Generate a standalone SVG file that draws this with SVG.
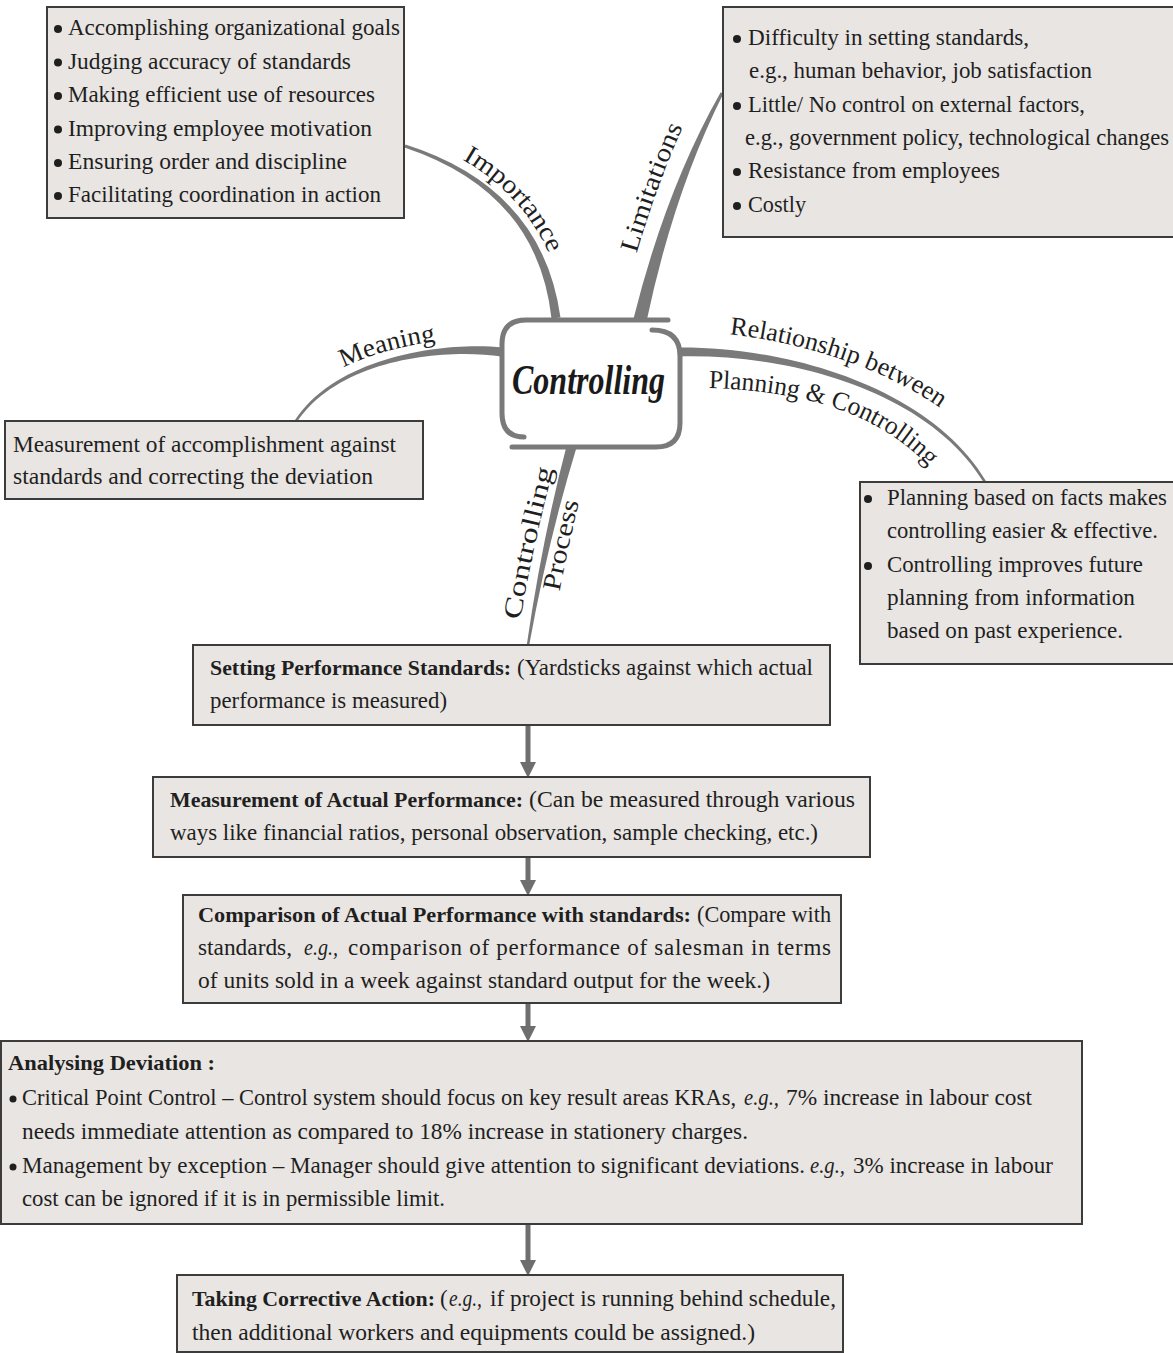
<svg xmlns="http://www.w3.org/2000/svg" width="1173" height="1353" viewBox="0 0 1173 1353">
<defs>
<style>
.box{fill:#e8e5e2;stroke:#3c3c3c;stroke-width:2}
.t{font-family:"Liberation Serif","DejaVu Serif",serif;font-size:23px;fill:#1f1f1f}
.b{font-weight:bold;font-size:22px}
.i{font-style:italic}
.lbl{font-family:"Liberation Serif","DejaVu Serif",serif;font-size:26px;fill:#1f1f1f}
.branch{fill:#7a7a7a}
.dot{fill:#1f1f1f}
.flow{stroke:#6e6e6e;stroke-width:5;fill:none}
.frame{fill:none;stroke:#7a7a7a;stroke-width:5;stroke-linecap:round}
</style>
<marker id="head" markerUnits="userSpaceOnUse" markerWidth="18" markerHeight="16" refX="1" refY="8" orient="auto">
<path d="M0,0 L16,8 L0,16 z" fill="#6e6e6e"/>
</marker>
<!-- baselines for the curved branch labels -->
<path id="p-imp" d="M 408.4 135.5 Q 548.5 183 566.9 318.6"/>
<path id="p-lim" d="M 620.5 315.5 Q 651.3 183 704.4 83.5"/>
<path id="p-mean" d="M 286 414.3 C 330 348.3 451.6 333.1 503.6 340.1"/>
<path id="p-rel1" d="M 677.6 332 C 789.6 330 947.2 379.7 1002.2 471.7"/>
<path id="p-rel2" d="M 678.6 388 C 790.6 386 899.1 408.5 954.1 500.5"/>
<path id="p-proc1" d="M 516 645 Q 533 540 560 445"/>
<path id="p-proc2" d="M 550 647 Q 567 540 594 445"/>
</defs>

<rect width="1173" height="1353" fill="#ffffff"/>

<!-- connectors: tapered branches, their labels and the process arrows -->
<g id="connectors">
<path class="branch" d="M 560.5 317.4 Q 542.3 188.1 405.5 144.6 L 404.5 147.4 Q 537.7 191.9 551.5 318.6 Z"/>
<path class="branch" d="M 646.5 321.4 Q 674 191.3 723.3 93.7 L 720.7 92.3 Q 666 188.7 633.5 318.7 Z"/>
<path class="branch" d="M 502.6 347.5 C 450.5 341.5 338.3 353.9 294.9 420.3 L 297.1 421.7 C 341.7 356.1 449.5 348.5 501.4 356.5 Z"/>
<path class="branch" d="M 678.1 356.5 C 790.1 353.5 928.3 391 983.9 482.7 L 986.1 481.3 C 931.7 389 789.9 346.5 677.9 347.5 Z"/>
<path class="branch" d="M 567.2 443.6 Q 542 539.3 526.8 644.8 L 529.2 645.2 Q 548 540.7 576.8 446.4 Z"/>

<text class="lbl"><textPath href="#p-imp" startOffset="59" textLength="130" lengthAdjust="spacingAndGlyphs">Importance</textPath></text>
<text class="lbl"><textPath href="#p-lim" startOffset="64" textLength="135" lengthAdjust="spacingAndGlyphs">Limitations</textPath></text>
<text class="lbl"><textPath href="#p-mean" startOffset="75" textLength="96" lengthAdjust="spacingAndGlyphs">Meaning</textPath></text>
<text class="lbl"><textPath href="#p-rel1" startOffset="52" textLength="225" lengthAdjust="spacingAndGlyphs">Relationship between</textPath></text>
<text class="lbl"><textPath href="#p-rel2" startOffset="30" textLength="240" lengthAdjust="spacingAndGlyphs">Planning &amp; Controlling</textPath></text>
<text class="lbl"><textPath href="#p-proc1" startOffset="25" textLength="155" lengthAdjust="spacingAndGlyphs">Controlling</textPath></text>
<text class="lbl"><textPath href="#p-proc2" startOffset="56" textLength="92" lengthAdjust="spacingAndGlyphs">Process</textPath></text>

<line class="flow" x1="528" y1="726" x2="528" y2="763" marker-end="url(#head)"/>
<line class="flow" x1="528" y1="858" x2="528" y2="881" marker-end="url(#head)"/>
<line class="flow" x1="528" y1="1004" x2="528" y2="1027" marker-end="url(#head)"/>
<line class="flow" x1="528" y1="1225" x2="528" y2="1261" marker-end="url(#head)"/>
</g>

<!-- central topic -->
<g id="node-controlling">
<rect x="502" y="320" width="178" height="127" rx="22" fill="#ffffff"/>
<path class="frame" d="M 524 437 Q 502 437 502 413 L 502 344 Q 502 320 526 320 L 668 320"/>
<path class="frame" d="M 652 330 Q 680 330 680 356 L 680 423 Q 680 447 656 447 L 512 447"/>
<text x="512" y="394" font-family="'Liberation Serif','DejaVu Serif',serif" font-weight="bold" font-style="italic" font-size="42" fill="#1a1a1a" textLength="153" lengthAdjust="spacingAndGlyphs">Controlling</text>
</g>

<g id="node-importance">
<rect class="box" x="47" y="7" width="357" height="211"/>
<circle class="dot" cx="58" cy="29" r="4"/>
<circle class="dot" cx="58" cy="62.5" r="4"/>
<circle class="dot" cx="58" cy="96" r="4"/>
<circle class="dot" cx="58" cy="129.5" r="4"/>
<circle class="dot" cx="58" cy="163" r="4"/>
<circle class="dot" cx="58" cy="196" r="4"/>
<text class="t" x="68" y="35" textLength="332" lengthAdjust="spacingAndGlyphs">Accomplishing organizational goals</text>
<text class="t" x="68" y="68.5" textLength="283" lengthAdjust="spacingAndGlyphs">Judging accuracy of standards</text>
<text class="t" x="68" y="102" textLength="307" lengthAdjust="spacingAndGlyphs">Making efficient use of resources</text>
<text class="t" x="68" y="135.5" textLength="304" lengthAdjust="spacingAndGlyphs">Improving employee motivation</text>
<text class="t" x="68" y="169" textLength="279" lengthAdjust="spacingAndGlyphs">Ensuring order and discipline</text>
<text class="t" x="68" y="202" textLength="313" lengthAdjust="spacingAndGlyphs">Facilitating coordination in action</text>
</g>

<g id="node-limitations">
<rect class="box" x="723" y="7" width="460" height="230"/>
<circle class="dot" cx="737" cy="39" r="4"/>
<circle class="dot" cx="737" cy="106" r="4"/>
<circle class="dot" cx="737" cy="172" r="4"/>
<circle class="dot" cx="737" cy="206" r="4"/>
<text class="t" x="748" y="45" textLength="281" lengthAdjust="spacingAndGlyphs">Difficulty in setting standards,</text>
<text class="t" x="749" y="78" textLength="343" lengthAdjust="spacingAndGlyphs">e.g., human behavior, job satisfaction</text>
<text class="t" x="748" y="112" textLength="337" lengthAdjust="spacingAndGlyphs">Little/ No control on external factors,</text>
<text class="t" x="745" y="145" font-size="22" textLength="424" lengthAdjust="spacingAndGlyphs">e.g., government policy, technological changes</text>
<text class="t" x="748" y="178" textLength="252" lengthAdjust="spacingAndGlyphs">Resistance from employees</text>
<text class="t" x="748" y="212" textLength="58" lengthAdjust="spacingAndGlyphs">Costly</text>
</g>

<g id="node-meaning">
<rect class="box" x="5" y="421" width="418" height="78"/>
<text class="t" x="13" y="451.5" textLength="383" lengthAdjust="spacingAndGlyphs">Measurement of accomplishment against</text>
<text class="t" x="13" y="484" textLength="360" lengthAdjust="spacingAndGlyphs">standards and correcting the deviation</text>
</g>

<g id="node-relationship">
<rect class="box" x="860" y="482" width="320" height="182"/>
<circle class="dot" cx="868" cy="499" r="4"/>
<circle class="dot" cx="868" cy="566" r="4"/>
<text class="t" x="887" y="505" textLength="280" lengthAdjust="spacingAndGlyphs">Planning based on facts makes</text>
<text class="t" x="887" y="538" textLength="271" lengthAdjust="spacingAndGlyphs">controlling easier &amp; effective.</text>
<text class="t" x="887" y="572" textLength="256" lengthAdjust="spacingAndGlyphs">Controlling improves future</text>
<text class="t" x="887" y="605" textLength="248" lengthAdjust="spacingAndGlyphs">planning from information</text>
<text class="t" x="887" y="638" textLength="236" lengthAdjust="spacingAndGlyphs">based on past experience.</text>
</g>

<g id="node-setting">
<rect class="box" x="193" y="645" width="637" height="80"/>
<text class="t b" x="210" y="675" textLength="301" lengthAdjust="spacingAndGlyphs">Setting Performance Standards:</text>
<text class="t" x="517" y="675" textLength="296" lengthAdjust="spacingAndGlyphs">(Yardsticks against which actual</text>
<text class="t" x="210" y="708" textLength="237" lengthAdjust="spacingAndGlyphs">performance is measured)</text>
</g>

<g id="node-measurement">
<rect class="box" x="153" y="777" width="717" height="80"/>
<text class="t b" x="170" y="807" textLength="353" lengthAdjust="spacingAndGlyphs">Measurement of Actual Performance:</text>
<text class="t" x="529" y="807" textLength="326" lengthAdjust="spacingAndGlyphs">(Can be measured through various</text>
<text class="t" x="170" y="840" textLength="648" lengthAdjust="spacingAndGlyphs">ways like financial ratios, personal observation, sample checking, etc.)</text>
</g>

<g id="node-comparison">
<rect class="box" x="183" y="895" width="658" height="108"/>
<text class="t b" x="198" y="922" textLength="493" lengthAdjust="spacingAndGlyphs">Comparison of Actual Performance with standards:</text>
<text class="t" x="697" y="922" textLength="134" lengthAdjust="spacingAndGlyphs">(Compare with</text>
<text class="t" x="198" y="955" textLength="94" lengthAdjust="spacingAndGlyphs">standards,</text>
<text class="t i" x="304" y="955" textLength="34" lengthAdjust="spacingAndGlyphs">e.g.,</text>
<text class="t" x="348" y="955" textLength="483" lengthAdjust="spacing">comparison of performance of salesman in terms</text>
<text class="t" x="198" y="988" textLength="572" lengthAdjust="spacingAndGlyphs">of units sold in a week against standard output for the week.)</text>
</g>

<g id="node-analysing">
<rect class="box" x="1" y="1041" width="1081" height="183"/>
<text class="t b" x="8" y="1070" textLength="207" lengthAdjust="spacingAndGlyphs">Analysing Deviation :</text>
<circle class="dot" cx="13" cy="1099" r="3.5"/>
<circle class="dot" cx="13" cy="1167" r="3.5"/>
<text class="t" x="22" y="1105" font-size="22" textLength="714" lengthAdjust="spacingAndGlyphs">Critical Point Control – Control system should focus on key result areas KRAs,</text>
<text class="t i" x="744" y="1105" font-size="22.5" textLength="35" lengthAdjust="spacingAndGlyphs">e.g.,</text>
<text class="t" x="786" y="1105" font-size="22.5" textLength="246" lengthAdjust="spacingAndGlyphs">7% increase in labour cost</text>
<text class="t" x="22" y="1139" font-size="22.5" textLength="726" lengthAdjust="spacingAndGlyphs">needs immediate attention as compared to 18% increase in stationery charges.</text>
<text class="t" x="22" y="1173" font-size="22.5" textLength="783" lengthAdjust="spacingAndGlyphs">Management by exception – Manager should give attention to significant deviations.</text>
<text class="t i" x="810" y="1173" font-size="22.5" textLength="35" lengthAdjust="spacingAndGlyphs">e.g.,</text>
<text class="t" x="853" y="1173" font-size="22.5" textLength="200" lengthAdjust="spacingAndGlyphs">3% increase in labour</text>
<text class="t" x="22" y="1206" font-size="22.5" textLength="423" lengthAdjust="spacingAndGlyphs">cost can be ignored if it is in permissible limit.</text>
</g>

<g id="node-corrective">
<rect class="box" x="177" y="1275" width="666" height="77"/>
<text class="t b" x="192" y="1306" font-size="21.5" textLength="243" lengthAdjust="spacingAndGlyphs">Taking Corrective Action:</text>
<text class="t" x="440" y="1306">(</text>
<text class="t i" x="449" y="1306" textLength="33" lengthAdjust="spacingAndGlyphs">e.g.,</text>
<text class="t" x="490" y="1306" textLength="346" lengthAdjust="spacingAndGlyphs">if project is running behind schedule,</text>
<text class="t" x="192" y="1340" textLength="563" lengthAdjust="spacingAndGlyphs">then additional workers and equipments could be assigned.)</text>
</g>
</svg>
